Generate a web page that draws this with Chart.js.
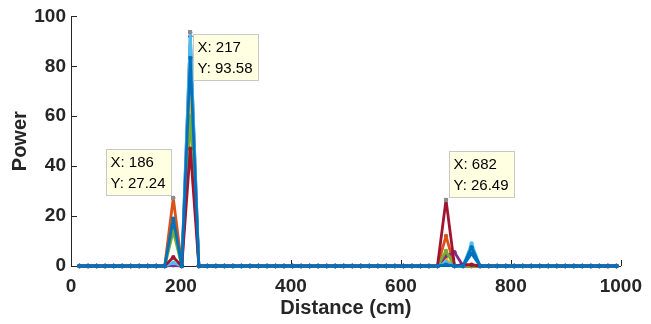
<!DOCTYPE html>
<html lang="en">
<head>
<meta charset="UTF-8" />
<title>Power vs distance</title>
<script src="https://cdn.jsdelivr.net/npm/chart.js"></script>
<style>
  body { margin: 0; background: #fff; }
  #wrap { width: 651px; height: 324px; }
</style>
</head>
<body>
<div id="wrap"><canvas id="powerChart" width="651" height="324"></canvas></div>
<script>
  // Range bins (cm)
  const distance = [
    15.5, 31, 46.5, 62, 77.5, 93, 108.5, 124, 139.5, 155, 170.5, 186, 201.5, 217, 232.5, 248,
    263.5, 279, 294.5, 310, 325.5, 341, 356.5, 372, 387.5, 403, 418.5, 434, 449.5, 465, 480.5, 496,
    511.5, 527, 542.5, 558, 573.5, 589, 604.5, 620, 635.5, 651, 666.5, 682, 697.5, 713, 728.5, 744,
    759.5, 775, 790.5, 806, 821.5, 837, 852.5, 868, 883.5, 899, 914.5, 930, 945.5, 961, 976.5, 992
  ];

  // Power per sweep
  const sweep1 = [
    0, 0, 0, 0, 0, 0, 0, 0, 0, 0, 0, 17, 0, 80, 0, 0,
    0, 0, 0, 0, 0, 0, 0, 0, 0, 0, 0, 0, 0, 0, 0, 0,
    0, 0, 0, 0, 0, 0, 0, 0, 0, 0, 0, 0.8, 0, 0, 5, 0,
    0, 0, 0, 0, 0, 0, 0, 0, 0, 0, 0, 0, 0, 0, 0, 0
  ];
  const sweep2 = [
    0, 0, 0, 0, 0, 0, 0, 0, 0, 0, 0, 27.24, 0, 76, 0, 0,
    0, 0, 0, 0, 0, 0, 0, 0, 0, 0, 0, 0, 0, 0, 0, 0,
    0, 0, 0, 0, 0, 0, 0, 0, 0, 0, 0, 12, 0, 0, 0, 0,
    0, 0, 0, 0, 0, 0, 0, 0, 0, 0, 0, 0, 0, 0, 0, 0
  ];
  const sweep3 = [
    0, 0, 0, 0, 0, 0, 0, 0, 0, 0, 0, 0.5, 0, 68, 0, 0,
    0, 0, 0, 0, 0, 0, 0, 0, 0, 0, 0, 0, 0, 0, 0, 0,
    0, 0, 0, 0, 0, 0, 0, 0, 0, 0, 0, 2.5, 0, 0, 0, 0,
    0, 0, 0, 0, 0, 0, 0, 0, 0, 0, 0, 0, 0, 0, 0, 0
  ];
  const sweep4 = [
    0, 0, 0, 0, 0, 0, 0, 0, 0, 0, 0, 0.3, 0, 92, 0, 0,
    0, 0, 0, 0, 0, 0, 0, 0, 0, 0, 0, 0, 0, 0, 0, 0,
    0, 0, 0, 0, 0, 0, 0, 0, 0, 0, 0, 4, 5.5, 0, 0, 0,
    0, 0, 0, 0, 0, 0, 0, 0, 0, 0, 0, 0, 0, 0, 0, 0
  ];
  const sweep5 = [
    0, 0, 0, 0, 0, 0, 0, 0, 0, 0, 0, 14, 0, 60, 0, 0,
    0, 0, 0, 0, 0, 0, 0, 0, 0, 0, 0, 0, 0, 0, 0, 0,
    0, 0, 0, 0, 0, 0, 0, 0, 0, 0, 0, 6, 0, 0, 0, 0,
    0, 0, 0, 0, 0, 0, 0, 0, 0, 0, 0, 0, 0, 0, 0, 0
  ];
  const sweep6 = [
    0, 0, 0, 0, 0, 0, 0, 0, 0, 0, 0, 1.2, 0, 93.58, 0, 0,
    0, 0, 0, 0, 0, 0, 0, 0, 0, 0, 0, 0, 0, 0, 0, 0,
    0, 0, 0, 0, 0, 0, 0, 0, 0, 0, 0, 1.5, 0, 0, 9, 0,
    0, 0, 0, 0, 0, 0, 0, 0, 0, 0, 0, 0, 0, 0, 0, 0
  ];
  const sweep7 = [
    0, 0, 0, 0, 0, 0, 0, 0, 0, 0, 0, 3.5, 0, 47, 0, 0,
    0, 0, 0, 0, 0, 0, 0, 0, 0, 0, 0, 0, 0, 0, 0, 0,
    0, 0, 0, 0, 0, 0, 0, 0, 0, 0, 0, 26.49, 0, 0.5, 0.5, 0,
    0, 0, 0, 0, 0, 0, 0, 0, 0, 0, 0, 0, 0, 0, 0, 0
  ];
  const sweep8 = [
    0, 0, 0, 0, 0, 0, 0, 0, 0, 0, 0, 19, 0, 83.4, 0, 0,
    0, 0, 0, 0, 0, 0, 0, 0, 0, 0, 0, 0, 0, 0, 0, 0,
    0, 0, 0, 0, 0, 0, 0, 0, 0, 0, 0, 0.5, 0, 0, 7.5, 0,
    0, 0, 0, 0, 0, 0, 0, 0, 0, 0, 0, 0, 0, 0, 0, 0
  ];

  const sweeps = [sweep1, sweep2, sweep3, sweep4, sweep5, sweep6, sweep7, sweep8];
  const colors = ["#0072BD", "#D95319", "#EDB120", "#7E2F8E", "#77AC30", "#4DBEEE", "#A2142F", "#0072BD"];

  // Data tips: [sweep index, bin index, which corner of the box sits on the point]
  const tips = [
    [1, 11, "bottom-right"],
    [5, 13, "top-left"],
    [6, 43, "bottom-left"]
  ];

  const axisColor = "#262626";
  const fontFamily = "'Liberation Sans', Arial, sans-serif";

  // MATLAB-like inward tick marks
  const inwardTicks = {
    id: "inwardTicks",
    beforeDatasetsDraw(chart) {
      const { ctx, chartArea, scales } = chart;
      ctx.save();
      ctx.strokeStyle = axisColor;
      ctx.lineWidth = 1;
      scales.x.ticks.forEach(t => {
        const px = Math.round(scales.x.getPixelForValue(t.value)) + 0.5;
        ctx.beginPath();
        ctx.moveTo(px, chartArea.bottom);
        ctx.lineTo(px, chartArea.bottom - 6);
        ctx.stroke();
      });
      scales.y.ticks.forEach(t => {
        const py = Math.round(scales.y.getPixelForValue(t.value)) + 0.5;
        ctx.beginPath();
        ctx.moveTo(chartArea.left, py);
        ctx.lineTo(chartArea.left + 6, py);
        ctx.stroke();
      });
      ctx.restore();
    }
  };

  // Yellow data tip boxes
  const dataTips = {
    id: "dataTips",
    afterDatasetsDraw(chart) {
      const { ctx, scales } = chart;
      ctx.save();
      ctx.font = "15px " + fontFamily;
      ctx.textBaseline = "middle";
      tips.forEach(([s, i, corner]) => {
        const xv = distance[i], yv = sweeps[s][i];
        const px = scales.x.getPixelForValue(xv);
        const py = scales.y.getPixelForValue(yv);
        const lines = ["X: " + xv, "Y: " + yv.toFixed(2)];
        const w = Math.ceil(Math.max(...lines.map(l => ctx.measureText(l).width))) + 9;
        const h = 46;
        let bx = corner.endsWith("left") ? px + 3 : px - 2 - w;
        let by = corner.startsWith("top") ? py + 2 : py - 3 - h;
        bx = Math.round(bx) + 0.5;
        by = Math.round(by) + 0.5;
        ctx.fillStyle = "#FFFFE1";
        ctx.strokeStyle = "#C8C8C8";
        ctx.lineWidth = 1;
        ctx.fillRect(bx, by, w, h);
        ctx.strokeRect(bx, by, w, h);
        ctx.fillStyle = "#000";
        ctx.fillText(lines[0], bx + 4, by + 13);
        ctx.fillText(lines[1], bx + 4, by + 34);
        ctx.fillStyle = "#8C8C8C";
        ctx.fillRect(Math.round(px) - 2, Math.round(py) - 2, 4, 4);
      });
      ctx.restore();
    }
  };

  new Chart(document.getElementById("powerChart"), {
    type: "line",
    data: {
      datasets: sweeps.map((vals, k) => ({
        data: distance.map((d, i) => ({ x: d, y: vals[i] })),
        borderColor: colors[k],
        backgroundColor: colors[k],
        borderWidth: 2.8,
        borderJoinStyle: "round",
        pointRadius: 2.2,
        pointBorderWidth: 0,
        tension: 0,
        fill: false,
        clip: false,
        order: sweeps.length - k
      }))
    },
    options: {
      responsive: false,
      animation: false,
      layout: { padding: { top: 16, right: 25, left: 0, bottom: 0 } },
      plugins: {
        legend: { display: false },
        tooltip: { enabled: false }
      },
      scales: {
        x: {
          type: "linear",
          min: 0,
          max: 1000,
          afterFit(scale) { scale.height = 58; },
          grid: { display: false, drawTicks: false },
          border: { display: true, color: axisColor, width: 1 },
          ticks: {
            stepSize: 200,
            padding: 9,
            color: axisColor,
            maxRotation: 0,
            callback: v => String(v),
            font: { family: fontFamily, size: 19, weight: "bold" }
          },
          title: {
            display: true,
            text: "Distance (cm)",
            color: axisColor,
            padding: { top: 0, bottom: 4 },
            font: { family: fontFamily, size: 20, weight: "bold" }
          }
        },
        y: {
          min: 0,
          max: 100,
          afterFit(scale) { scale.width = 71; },
          grid: { display: false, drawTicks: false },
          border: { display: true, color: axisColor, width: 1 },
          ticks: {
            stepSize: 20,
            padding: 5,
            color: axisColor,
            callback: v => String(v),
            font: { family: fontFamily, size: 19, weight: "bold" }
          },
          title: {
            display: true,
            text: "Power",
            color: axisColor,
            padding: { top: 8, bottom: 0 },
            font: { family: fontFamily, size: 20, weight: "bold" }
          }
        }
      }
    },
    plugins: [inwardTicks, dataTips]
  });
</script>
</body>
</html>
